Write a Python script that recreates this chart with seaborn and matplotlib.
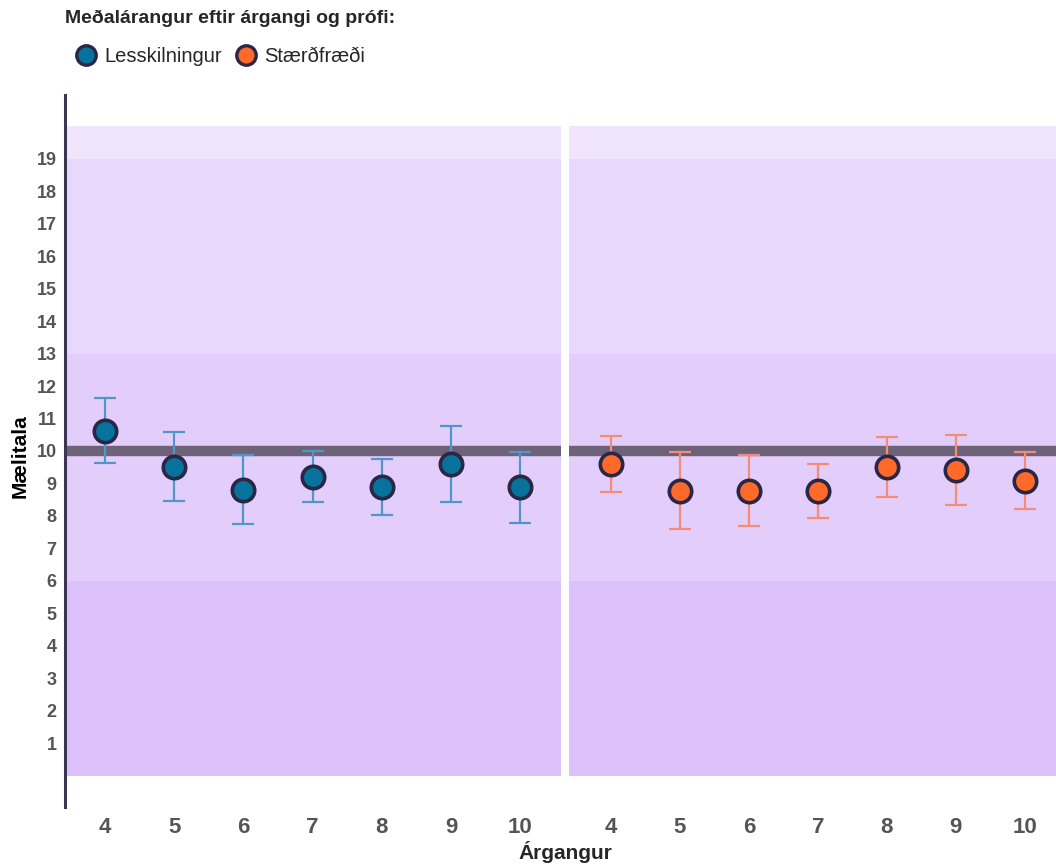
import numpy as np
import pandas as pd
import seaborn as sns
import matplotlib.pyplot as plt
from matplotlib.lines import Line2D

# --- data ---
grades = ["4", "5", "6", "7", "8", "9", "10"]

read_mean = [10.63, 9.52, 8.80, 9.21, 8.90, 9.59, 8.90]
read_low = [9.64, 8.46, 7.74, 8.43, 8.04, 8.43, 7.79]
read_high = [11.62, 10.60, 9.87, 10.01, 9.76, 10.78, 9.98]

math_mean = [9.59, 8.78, 8.78, 8.77, 9.50, 9.41, 9.08]
math_low = [8.73, 7.61, 7.68, 7.93, 8.58, 8.34, 8.20]
math_high = [10.47, 9.96, 9.88, 9.59, 10.42, 10.49, 9.96]

# score bands (bottom, top) and their colours
band_edges = [(0, 6), (6, 13), (13, 19), (19, 20)]
band_colors = ["#dcc1fb", "#e3cdfb", "#e8d8fc", "#f1e4fd"]
national_mean = 10

sns.set_theme(style="white")
plt.rcParams["font.family"] = ["Liberation Sans", "DejaVu Sans"]

fig = plt.figure(figsize=(10.56, 8.65), dpi=100)
W, H = 1056, 865
ax_l = fig.add_axes([65 / W, (865 - 807) / H, 496 / W, 712 / H])
ax_r = fig.add_axes([569 / W, (865 - 807) / H, 487 / W, 712 / H])

series = [
    (ax_l, read_mean, read_low, read_high, "#07729c", "#4f97c8", (-0.578, 6.59)),
    (ax_r, math_mean, math_low, math_high, "#ff6a2a", "#f58d76", (-0.607, 6.45)),
]

for ax, mean, low, high, fill, ecol, xl in series:
    df = pd.DataFrame({"pos": np.arange(len(grades)), "mean": mean,
                       "low": low, "high": high})
    for (b, t), c in zip(band_edges, band_colors):
        ax.axhspan(b, t, color=c, lw=0, zorder=0)
    ax.axhline(national_mean, color="#6e6279", lw=7.5, zorder=1)
    ax.errorbar(df["pos"], df["mean"],
                yerr=[df["mean"] - df["low"], df["high"] - df["mean"]],
                fmt="none", ecolor=ecol, elinewidth=1.6, capsize=8,
                capthick=1.6, zorder=2)
    sns.scatterplot(data=df, x="pos", y="mean", ax=ax, s=260, color=fill,
                    edgecolor="#2a2645", linewidth=2.6, zorder=3, legend=False)
    ax.set_xlim(*xl)
    ax.set_ylim(-0.97, 20.97)
    ax.set_xticks(df["pos"])
    ax.set_xticklabels(grades, fontsize=16, fontweight="bold", color="#555555")
    ax.set_xlabel("")
    ax.set_ylabel("")
    ax.tick_params(axis="x", length=0, pad=7)
    ax.tick_params(axis="y", length=0)
    for s in ["top", "right", "bottom"]:
        ax.spines[s].set_visible(False)
    ax.set_facecolor("none")

ax_l.set_yticks(range(1, 20))
ax_l.set_yticklabels([str(v) for v in range(1, 20)], fontsize=13,
                     fontweight="bold", color="#555555")
ax_l.tick_params(axis="y", pad=6)
ax_l.spines["left"].set_color("#3b3552")
ax_l.spines["left"].set_linewidth(2.2)
ax_r.set_yticks([])
ax_r.spines["left"].set_visible(False)

fig.text(20 / W, 1 - 456 / H, "Mælitala", ha="center", va="center",
         rotation=90, fontsize=15, fontweight="bold", color="black")
fig.text(565 / W, 1 - 852 / H, "Árgangur", ha="center", va="center",
         fontsize=15, fontweight="bold")

fig.text(65 / W, 1 - 18 / H, "Meðalárangur eftir árgangi og prófi:", ha="left",
         va="center", fontsize=14, fontweight="bold")

handles = [
    Line2D([], [], marker="o", ls="none", ms=14, mfc="#07729c",
           mec="#2a2645", mew=2.4, label="Lesskilningur"),
    Line2D([], [], marker="o", ls="none", ms=14, mfc="#ff6a2a",
           mec="#2a2645", mew=2.4, label="Stærðfræði"),
]
fig.legend(handles=handles, loc="center left", bbox_to_anchor=(74 / W, 1 - 57 / H),
           ncol=2, frameon=False, fontsize=14.5, handletextpad=0.3,
           columnspacing=0.6, handlelength=1.2, borderpad=0, borderaxespad=0)

fig.savefig("out.png", dpi=100)
